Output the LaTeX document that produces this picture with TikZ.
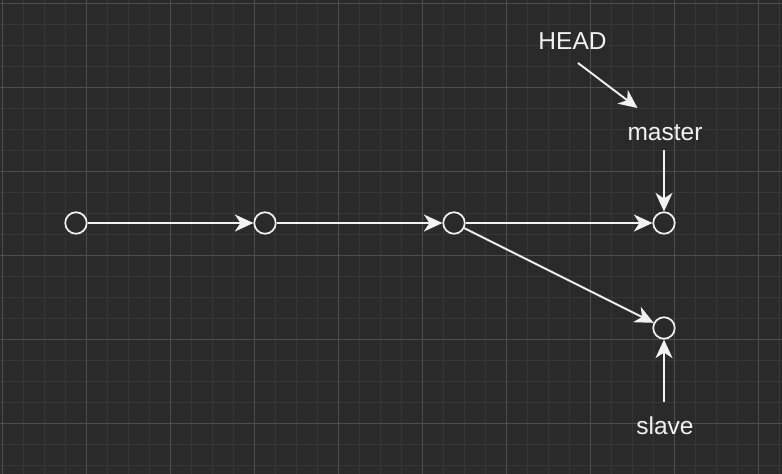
\documentclass[tikz,border=0pt]{standalone}
\usepackage{fontspec}
\setmainfont{Liberation Sans}
\usetikzlibrary{arrows.meta}

\definecolor{canvasbg}{RGB}{42,42,42}
\definecolor{gridminor}{RGB}{54,54,54}
\definecolor{gridmajor}{RGB}{78,78,78}
\definecolor{inkwhite}{RGB}{242,242,242}

\tikzset{
  commit/.style={circle, draw=inkwhite, line width=1.7pt, minimum size=21.5pt, inner sep=0pt},
  reflabel/.style={anchor=base, inner sep=0pt, text=inkwhite, font=\fontsize{24.5}{28}\selectfont},
  link/.style={draw=inkwhite, line width=1.9pt, -{Stealth[length=18.5pt, width=17pt, inset=5.5pt]}}
}

\begin{document}
\begin{tikzpicture}[x=1pt,y=1pt,yscale=-1]
\useasboundingbox (0,0) rectangle (782,474);
\fill[canvasbg] (0,0) rectangle (782,474);

%Grid
\foreach \gx in {2.5,23.5,...,782} \draw[gridminor, line width=0.9pt] (\gx,0) -- (\gx,474);
\foreach \gy in {3,24,...,474} \draw[gridminor, line width=0.9pt] (0,\gy) -- (782,\gy);
\foreach \gx in {2.5,86.5,...,782} \draw[gridmajor, line width=0.9pt] (\gx,0) -- (\gx,474);
\foreach \gy in {3,87,...,474} \draw[gridmajor, line width=0.9pt] (0,\gy) -- (782,\gy);

%Commits
\node[commit] (c1) at (76,223) {};
\node[commit] (c2) at (265,223) {};
\node[commit] (c3) at (454,223) {};
\node[commit] (c4) at (664,223) {};
\node[commit] (c5) at (664,328) {};

% Text Node
\node[reflabel] (head) at (572.5,49.5) {HEAD};
% Text Node
\node[reflabel] (master) at (665,140) {master};
% Text Node
\node[reflabel] (slave) at (665,434) {slave};

\coordinate (headfrom) at (578,63);
\coordinate (headto) at (637.5,108);
\coordinate (masterfrom) at (664,150);
\coordinate (slavefrom) at (664,402);

%Straight Lines
\draw[link] (c1) -- (c2);
\draw[link] (c2) -- (c3);
\draw[link] (c3) -- (c4);
\draw[link] (c3) -- (c5);
\draw[link] (headfrom) -- (headto);
\draw[link] (masterfrom) -- (c4);
\draw[link] (slavefrom) -- (c5);

\end{tikzpicture}
\end{document}
